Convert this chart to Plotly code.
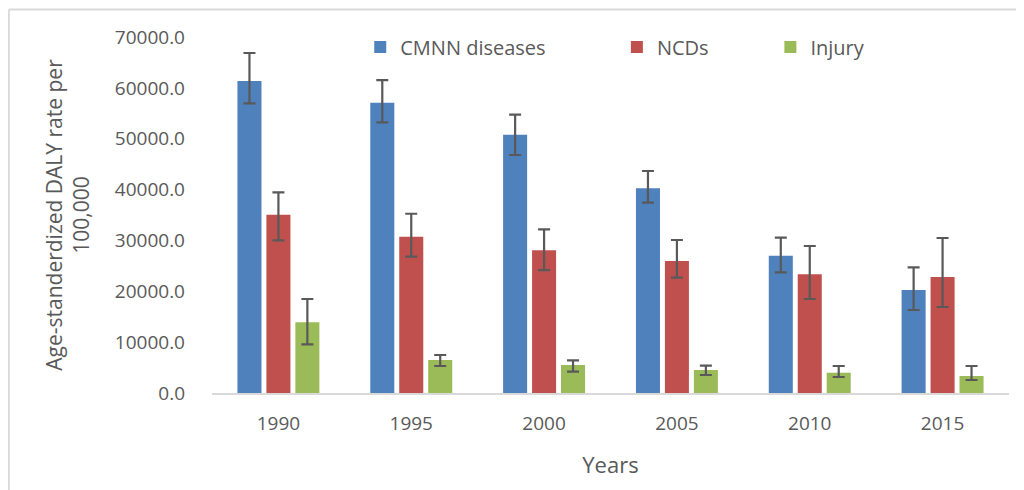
import plotly.graph_objects as go

years = ["1990", "1995", "2000", "2005", "2010", "2015"]
series_names = ["CMNN diseases", "NCDs", "Injury"]
cmnn = [61350, 57080, 50790, 40250, 27000, 20250]
cmnn_hi = [66850, 61540, 54720, 43650, 30540, 24710]
cmnn_lo = [56960, 53220, 46800, 37420, 23730, 16320]
ncds = [35060, 30730, 28050, 25950, 23330, 22810]
ncds_hi = [39460, 35250, 32180, 30080, 28900, 30480]
ncds_lo = [30020, 26800, 24180, 22670, 18480, 16910]
injury = [13900, 6490, 5510, 4520, 3990, 3340]
injury_hi = [18480, 7470, 6430, 5370, 5310, 5310]
injury_lo = [9570, 5310, 4190, 3540, 3150, 2560]
y_ticks = [0, 10000, 20000, 30000, 40000, 50000, 60000, 70000]

colors = ["#4F81BD", "#C0504D", "#9BBB59"]
values = [cmnn, ncds, injury]
highs = [cmnn_hi, ncds_hi, injury_hi]
lows = [cmnn_lo, ncds_lo, injury_lo]
legend_ids = ["legend", "legend2", "legend3"]
legend_x = [0.186, 0.508, 0.7006]

FONT = "Open Sans"
GREY = "#595959"

fig = go.Figure()
for name, v, hi, lo, c, lg in zip(series_names, values, highs, lows, colors, legend_ids):
    fig.add_trace(go.Bar(
        x=years, y=v, name=name, legend=lg,
        marker=dict(color=c, line=dict(width=0)),
        error_y=dict(type="data", symmetric=False,
                     array=[h - a for h, a in zip(hi, v)],
                     arrayminus=[a - l for a, l in zip(v, lo)],
                     color=GREY, thickness=2.2, width=6),
    ))

legend_common = dict(orientation="h", yanchor="middle", y=0.972, xanchor="left",
                     font=dict(family=FONT, size=20, color=GREY),
                     bgcolor="rgba(0,0,0,0)", itemwidth=30)
layout_legends = {}
for lg, lx in zip(legend_ids, legend_x):
    layout_legends[lg] = dict(legend_common, x=lx)

fig.update_layout(
    width=1024, height=490,
    margin=dict(l=203.5, r=22.5, t=29, b=105),
    paper_bgcolor="white", plot_bgcolor="white",
    bargap=0.346, bargroupgap=0.17, barmode="group",
    font=dict(family=FONT, color=GREY, size=19),
    showlegend=True,
    **layout_legends,
    xaxis=dict(showgrid=False, showline=True, linecolor="#D9D9D9", linewidth=1.5,
               ticks="", tickfont=dict(family=FONT, size=19, color=GREY),
               ticklabelstandoff=12,
               title=dict(text="Years", font=dict(family=FONT, size=22, color=GREY), standoff=23)),
    yaxis=dict(range=[0, 70000], tickvals=y_ticks, tickformat=".1f",
               showgrid=False, showline=False, zeroline=False, ticks="",
               tickfont=dict(family=FONT, size=19, color=GREY),
               ticklabelstandoff=26,
               title=dict(text="Age-standerdized DALY rate per<br>100,000",
                          font=dict(family=FONT, size=21, color=GREY), standoff=19)),
    shapes=[
        dict(type="line", xref="paper", yref="paper", x0=-0.255, x1=-0.255, y0=1.0772, y1=-0.35,
             line=dict(color="#D9D9D9", width=2)),
        dict(type="line", xref="paper", yref="paper", x0=-0.255, x1=1.05, y0=1.0772, y1=1.0772,
             line=dict(color="#D9D9D9", width=2)),
    ],
)

fig.write_html("out.html")
